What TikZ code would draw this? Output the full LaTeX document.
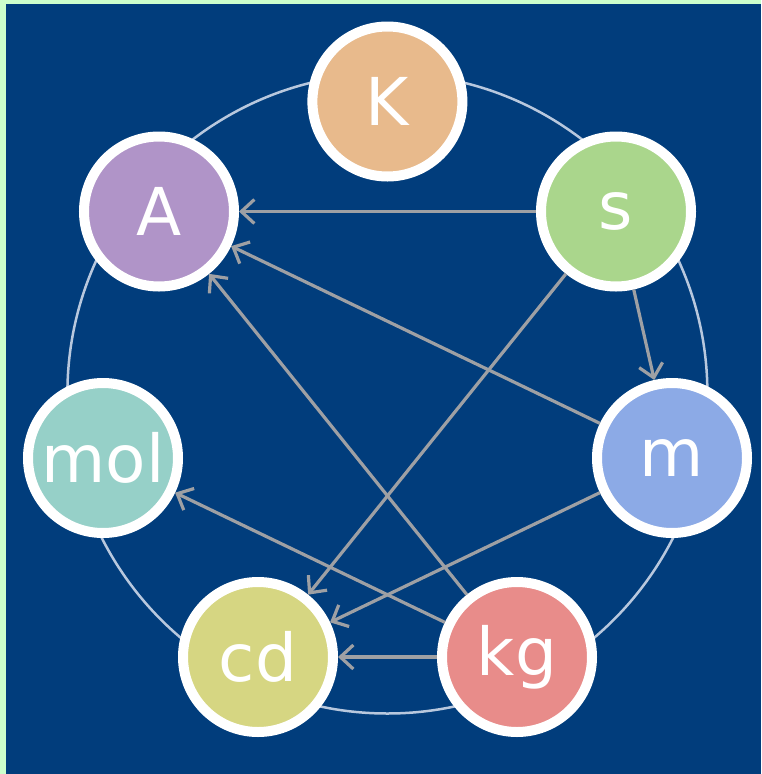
\documentclass[tikz,border=0pt]{standalone}
\usepackage{fontspec}
\setmainfont{DejaVu Sans}
\usetikzlibrary{arrows.meta}
\definecolor{bgblue}{RGB}{1,61,124}
\definecolor{frame}{RGB}{204,255,204}
\definecolor{ringc}{RGB}{184,200,222}
\definecolor{edgec}{RGB}{158,160,164}
\definecolor{cK}{RGB}{232,186,140}
\definecolor{cA}{RGB}{176,148,200}
\definecolor{cs}{RGB}{170,214,140}
\definecolor{cmol}{RGB}{150,208,200}
\definecolor{cm}{RGB}{140,170,230}
\definecolor{ccd}{RGB}{214,214,130}
\definecolor{ckg}{RGB}{232,140,138}
\tikzset{
  unit/.style={circle, draw=white, line width=10pt, minimum size=150pt, inner sep=0pt,
    text=white, font=\fontsize{66}{66}\selectfont},
  link/.style={draw=edgec, line width=3.2pt, -{Straight Barb[length=13pt,width=24pt]}},
  ring/.style={draw=ringc, line width=2.5pt}
}
\begin{document}
\begin{tikzpicture}[x=1pt,y=-1pt]
\useasboundingbox (0,0) rectangle (761,774);
\fill[frame] (0,0) rectangle (761,774);
\fill[bgblue] (6,4) rectangle (761,774);
\draw[ring] (387.4,393.5) circle[radius=320];
\node[unit, fill=cK]   (K)   at (387.4,101.5) {K};
\node[unit, fill=cA]   (A)   at (159,211.5)   {A};
\node[unit, fill=cs]   (s)   at (616,211.5)   {s};
\node[unit, fill=cmol] (mol) at (103,458)     {mol};
\node[unit, fill=cm]   (m)   at (672,458)     {m};
\node[unit, fill=ccd]  (cd)  at (258,657)     {cd};
\node[unit, fill=ckg]  (kg)  at (517,657)     {kg};
\draw[link] (s) -- (A);
\draw[link] (m) -- (A);
\draw[link] (kg) -- (A);
\draw[link] (s) -- (m);
\draw[link] (s) -- (cd);
\draw[link] (m) -- (cd);
\draw[link] (kg) -- (mol);
\draw[link] (kg) -- (cd);
\end{tikzpicture}
\end{document}
